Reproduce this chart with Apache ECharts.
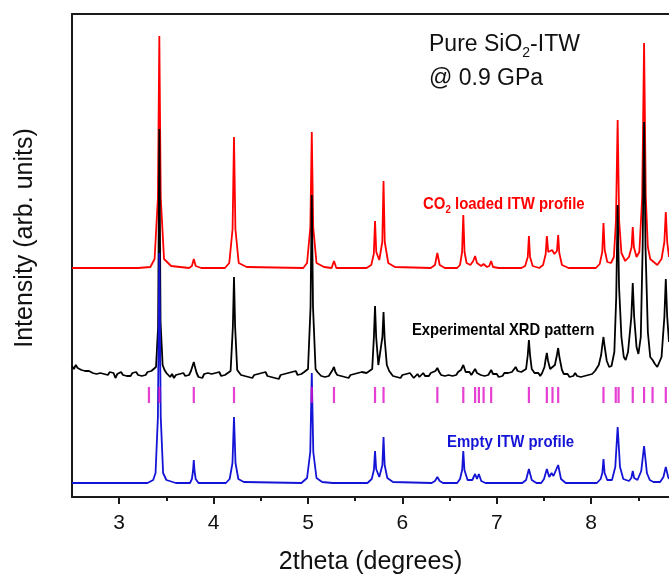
<!DOCTYPE html>
<html><head><meta charset="utf-8">
<script src="https://cdn.jsdelivr.net/npm/echarts@6/dist/echarts.min.js"></script>
<style>html,body{margin:0;padding:0;background:#fff}#c{width:669px;height:577px}</style>
</head><body><div id="c"></div>
<script>
// ---- data (2theta in degrees, intensity in arbitrary offset units) ----
const xTickValues = [3, 4, 5, 6, 7, 8];
const xMinorTickValues = [3.5, 4.5, 5.5, 6.5, 7.5, 8.5];

const redProfile = [
[2.5,229],[3.2,229],[3.33,230],[3.375,238],[3.41,299],[3.425,461],[3.44,299],[3.475,238],[3.55,231],[3.74,229],
[3.77,231],[3.79,238],[3.81,231],[3.87,229],[4.12,229],[4.166,234],[4.201,268],[4.216,360],[4.231,268],[4.266,234],
[4.35,230],[4.95,229],[4.99,234],[5.025,270],[5.04,365],[5.055,270],[5.09,234],[5.17,230],[5.25,229],[5.275,236],
[5.30,229],[5.62,229],[5.67,232],[5.697,243],[5.71,276],[5.723,245],[5.755,237],[5.787,255],[5.80,316],[5.813,255],
[5.85,234],[5.92,230],[6.30,229],[6.345,232],[6.37,244],[6.395,232],[6.45,229],[6.58,229],[6.61,232],[6.632,245],
[6.645,282],[6.658,245],[6.68,234],[6.72,232],[6.75,236],[6.77,241],[6.79,234],[6.81,235],[6.835,231],[6.86,233],
[6.895,230],[6.92,231],[6.94,236],[6.96,230],[7.02,229],[7.26,229],[7.30,231],[7.328,240],[7.34,261],[7.352,240],
[7.38,231],[7.45,229],[7.49,232],[7.518,243],[7.53,261],[7.545,245],[7.565,243],[7.585,247],[7.61,243],[7.637,246],
[7.65,262],[7.662,244],[7.69,232],[7.76,229],[8.05,229],[8.09,233],[8.117,245],[8.13,274],[8.143,247],[8.17,235],
[8.21,234],[8.24,240],[8.262,276],[8.28,377],[8.296,276],[8.32,244],[8.36,236],[8.40,240],[8.428,250],[8.44,270],
[8.452,250],[8.48,240],[8.51,245],[8.54,300],[8.56,454],[8.578,300],[8.60,250],[8.625,238],[8.65,236],[8.70,232],
[8.745,238],[8.775,255],[8.79,285],[8.805,255],[8.824,240]
];

const blackProfile = [
[2.5,131],[2.52,128],[2.54,132],[2.56,129],[2.58,130],[2.60,127],[2.62,129],[2.64,126],[2.66,128],[2.68,126],
[2.70,127],[2.72,124],[2.74,126],[2.76,123],[2.78,125],[2.80,124],[2.82,126],[2.84,123],[2.86,125],[2.88,122],
[2.90,125],[2.92,123],[2.94,124],[2.96,119],[2.98,123],[3.00,122],[3.02,125],[3.04,122],[3.06,124],[3.08,121],
[3.10,123],[3.12,121],[3.14,124],[3.16,122],[3.18,125],[3.20,122],[3.22,124],[3.24,121],[3.26,123],[3.28,122],
[3.30,125],[3.32,124],[3.34,126],[3.36,125],[3.39,130],[3.412,170],[3.425,368],[3.438,175],[3.46,132],[3.48,127],
[3.50,124],[3.52,126],[3.54,120],[3.56,123],[3.58,119],[3.60,122],[3.62,120],[3.64,123],[3.66,121],[3.68,124],
[3.70,121],[3.72,123],[3.74,122],[3.76,126],[3.78,132],[3.79,135],[3.80,131],[3.82,124],[3.84,120],[3.86,122],
[3.88,119],[3.90,123],[3.92,121],[3.94,124],[3.96,122],[3.98,123],[4.00,121],[4.02,124],[4.04,122],[4.06,125],
[4.08,121],[4.10,123],[4.12,122],[4.14,124],[4.18,126],[4.204,170],[4.216,220],[4.228,170],[4.25,127],[4.27,126],
[4.29,122],[4.31,124],[4.33,121],[4.35,123],[4.37,120],[4.39,122],[4.41,119],[4.43,122],[4.45,120],[4.47,123],
[4.49,121],[4.51,124],[4.53,122],[4.55,125],[4.57,121],[4.59,123],[4.61,120],[4.63,122],[4.65,119],[4.67,121],
[4.69,118],[4.71,122],[4.73,120],[4.75,123],[4.77,121],[4.79,124],[4.81,122],[4.83,125],[4.85,123],[4.87,126],
[4.89,122],[4.91,124],[4.93,123],[4.96,125],[5.00,128],[5.027,190],[5.04,302],[5.053,190],[5.08,128],[5.10,125],
[5.12,124],[5.14,121],[5.16,123],[5.18,120],[5.20,122],[5.22,121],[5.24,124],[5.26,127],[5.275,130],[5.29,125],
[5.31,122],[5.33,124],[5.35,121],[5.37,123],[5.39,120],[5.41,122],[5.43,119],[5.45,122],[5.47,120],[5.49,123],
[5.51,121],[5.53,124],[5.55,122],[5.57,125],[5.59,123],[5.62,124],[5.68,128],[5.698,160],[5.71,191],[5.722,160],
[5.745,132],[5.765,132],[5.788,160],[5.80,185],[5.812,158],[5.835,132],[5.86,126],[5.88,124],[5.90,121],[5.92,123],[5.94,120],
[5.96,122],[5.98,119],[6.00,122],[6.02,120],[6.04,123],[6.06,121],[6.08,124],[6.10,122],[6.12,119],[6.14,121],
[6.16,123],[6.18,120],[6.20,122],[6.22,124],[6.24,121],[6.26,123],[6.28,121],[6.30,124],[6.32,122],[6.35,126],
[6.37,129],[6.39,125],[6.41,122],[6.43,124],[6.45,121],[6.47,123],[6.49,122],[6.51,124],[6.53,121],[6.55,123],
[6.57,122],[6.59,125],[6.62,127],[6.645,132],[6.67,125],[6.69,123],[6.71,125],[6.73,122],[6.75,124],[6.77,128],
[6.79,124],[6.81,126],[6.83,122],[6.85,124],[6.87,121],[6.89,123],[6.91,122],[6.94,127],[6.96,123],[6.98,121],
[7.00,123],[7.02,120],[7.04,122],[7.06,121],[7.08,124],[7.10,122],[7.12,124],[7.14,123],[7.16,125],[7.18,127],
[7.20,130],[7.22,126],[7.24,124],[7.26,125],[7.28,124],[7.31,128],[7.328,142],[7.34,157],[7.352,142],[7.37,128],
[7.40,124],[7.42,122],[7.44,124],[7.46,121],[7.48,124],[7.505,130],[7.518,138],[7.53,144],[7.543,136],[7.565,128],
[7.585,130],[7.615,132],[7.637,142],[7.65,149],[7.663,140],[7.69,127],[7.71,123],[7.73,121],[7.75,123],[7.77,120],
[7.79,122],[7.81,121],[7.83,124],[7.85,121],[7.87,123],[7.89,120],[7.91,122],[7.93,121],[7.95,123],[7.97,122],
[7.99,124],[8.01,123],[8.04,126],[8.08,132],[8.105,142],[8.118,152],[8.13,160],[8.143,150],[8.165,136],[8.19,130],
[8.215,131],[8.245,145],[8.265,200],[8.28,292],[8.295,210],[8.32,160],[8.345,140],[8.365,137],[8.39,145],[8.425,180],
[8.44,214],[8.455,180],[8.48,150],[8.50,143],[8.525,160],[8.545,250],[8.56,375],[8.575,250],[8.60,165],[8.625,140],
[8.65,137],[8.675,133],[8.70,130],[8.72,129],[8.745,140],[8.775,180],[8.79,218],[8.805,180],[8.824,155]
];

const blueProfile = [
[2.5,14],[3.30,14],[3.36,17],[3.385,24],[3.41,80],[3.425,244],[3.44,80],[3.465,24],[3.50,17],[3.60,14],
[3.75,14],[3.77,18],[3.782,26],[3.79,37],[3.798,26],[3.81,18],[3.84,14],[4.13,14],[4.17,18],[4.20,34],
[4.216,80],[4.232,34],[4.262,18],[4.32,15],[4.93,14],[4.99,19],[5.024,45],[5.04,124],[5.056,45],[5.09,19],
[5.15,15],[5.26,14],[5.275,16],[5.29,14],[5.63,14],[5.675,18],[5.698,27],[5.71,46],[5.722,28],[5.755,20],
[5.788,32],[5.80,60],[5.812,32],[5.84,19],[5.90,15],[6.31,14],[6.345,16],[6.37,20],[6.395,16],[6.43,14],
[6.58,14],[6.61,18],[6.633,27],[6.645,46],[6.657,27],[6.69,17],[6.74,17],[6.77,23],[6.79,18],[6.81,23],
[6.835,16],[6.88,14],[7.27,14],[7.31,17],[7.34,28],[7.37,17],[7.42,14],[7.47,14],[7.50,18],[7.53,28],
[7.555,20],[7.58,24],[7.60,21],[7.65,32],[7.68,18],[7.73,14],[8.06,14],[8.10,18],[8.118,24],[8.13,38],
[8.142,24],[8.17,17],[8.22,17],[8.255,30],[8.28,70],[8.305,30],[8.34,18],[8.40,16],[8.425,19],[8.44,26],
[8.455,19],[8.49,17],[8.53,26],[8.56,51],[8.59,24],[8.62,17],[8.66,15],[8.73,15],[8.765,20],[8.79,30],
[8.815,20],[8.824,18]
];

const reflectionPositions = [3.315,3.425,3.79,4.216,5.04,5.275,5.71,5.80,6.37,6.645,6.77,6.81,6.86,6.94,
  7.34,7.53,7.59,7.65,8.13,8.26,8.29,8.44,8.56,8.65,8.79];
const reflectionLevel = 102;

const xTitle = '2theta (degrees)';
const yTitle = 'Intensity (arb. units)';

// ---- chart ----
const FONT = '"Liberation Sans", Arial, Helvetica, sans-serif';
const AX = '#1a1a1a';
const chart = echarts.init(document.getElementById('c'), null, {renderer: 'canvas'});

const xBase = {type: 'value', min: 2.5, max: 8.824, gridIndex: 0, splitLine: {show: false}};

const option = {
  animation: false,
  backgroundColor: '#fff',
  grid: {left: 72, right: 0, top: 14, bottom: 80, containLabel: false, outerBoundsMode: 'none'},
  xAxis: [
    Object.assign({}, xBase, {
      position: 'bottom',
      axisLine: {show: true, lineStyle: {color: AX, width: 2}},
      axisTick: {show: true, inside: false, length: 7, lineStyle: {color: AX, width: 2}, customValues: xTickValues},
      axisLabel: {show: true, customValues: xTickValues, fontSize: 21, color: '#111', fontFamily: FONT, margin: 16},
      name: xTitle, nameLocation: 'middle', nameGap: 53,
      nameTextStyle: {fontSize: 25, color: '#111', fontFamily: FONT}
    }),
    Object.assign({}, xBase, {
      position: 'bottom',
      axisLine: {show: false},
      axisTick: {show: true, inside: false, length: 4, lineStyle: {color: AX, width: 2}, customValues: xMinorTickValues},
      axisLabel: {show: false}
    }),
    Object.assign({}, xBase, {
      position: 'top',
      axisLine: {show: true, lineStyle: {color: AX, width: 2}},
      axisTick: {show: false}, axisLabel: {show: false}
    })
  ],
  yAxis: {
    type: 'value', min: 0, max: 483,
    axisLine: {show: true, lineStyle: {color: AX, width: 2}},
    axisTick: {show: false}, axisLabel: {show: false}, splitLine: {show: false}
  },
  series: [
    {type: 'line', name: 'CO2 loaded ITW profile', data: redProfile, xAxisIndex: 0, symbol: 'none',
     lineStyle: {color: '#ff0000', width: 1.8}, z: 2, silent: true},
    {type: 'line', name: 'Experimental XRD pattern', data: blackProfile, xAxisIndex: 0, symbol: 'none',
     lineStyle: {color: '#000000', width: 1.8}, z: 3, silent: true},
    {type: 'line', name: 'Empty ITW profile', data: blueProfile, xAxisIndex: 0, symbol: 'none',
     lineStyle: {color: '#1414d6', width: 1.8}, z: 4, silent: true},
    {type: 'scatter', name: 'Reflections', xAxisIndex: 0,
     data: reflectionPositions.map(p => [p, reflectionLevel]),
     symbol: 'rect', symbolSize: [2.2, 16], itemStyle: {color: '#e010c8'}, z: 5, silent: true}
  ],
  graphic: [
    {type: 'text', x: 25, y: 238, rotation: Math.PI / 2, z: 10,
     style: {text: yTitle, font: '25px ' + FONT, fill: '#111', align: 'center', verticalAlign: 'middle'}},
    {type: 'text', x: 429, y: 45, z: 10,
     style: {text: '{n|Pure SiO}{s|2}{n|-ITW}', align: 'left', verticalAlign: 'middle', fill: '#111',
       rich: {n: {font: '23px ' + FONT, lineHeight: 23, fill: '#111'},
              s: {font: '14px ' + FONT, lineHeight: 14, padding: [16, 0, 0, 0], fill: '#111'}}}},
    {type: 'text', x: 429, y: 79, z: 10,
     style: {text: '@ 0.9 GPa', font: '23px ' + FONT, fill: '#111', align: 'left', verticalAlign: 'middle'}},
    {type: 'text', x: 423, y: 204, z: 10, scaleX: 0.88,
     style: {text: '{n|CO}{s|2}{n| loaded ITW profile}', align: 'left', verticalAlign: 'middle', fill: '#ff0000',
       rich: {n: {font: 'bold 17px ' + FONT, lineHeight: 17, fill: '#ff0000'},
              s: {font: 'bold 11px ' + FONT, lineHeight: 11, padding: [11, 0, 0, 0], fill: '#ff0000'}}}},
    {type: 'text', x: 412, y: 330, z: 10, scaleX: 0.87,
     style: {text: 'Experimental XRD pattern', font: 'bold 17px ' + FONT, fill: '#000', align: 'left', verticalAlign: 'middle'}},
    {type: 'text', x: 447, y: 442, z: 10, scaleX: 0.88,
     style: {text: 'Empty ITW profile', font: 'bold 17px ' + FONT, fill: '#1414d6', align: 'left', verticalAlign: 'middle'}}
  ]
};
chart.setOption(option);
</script>
</body></html>
